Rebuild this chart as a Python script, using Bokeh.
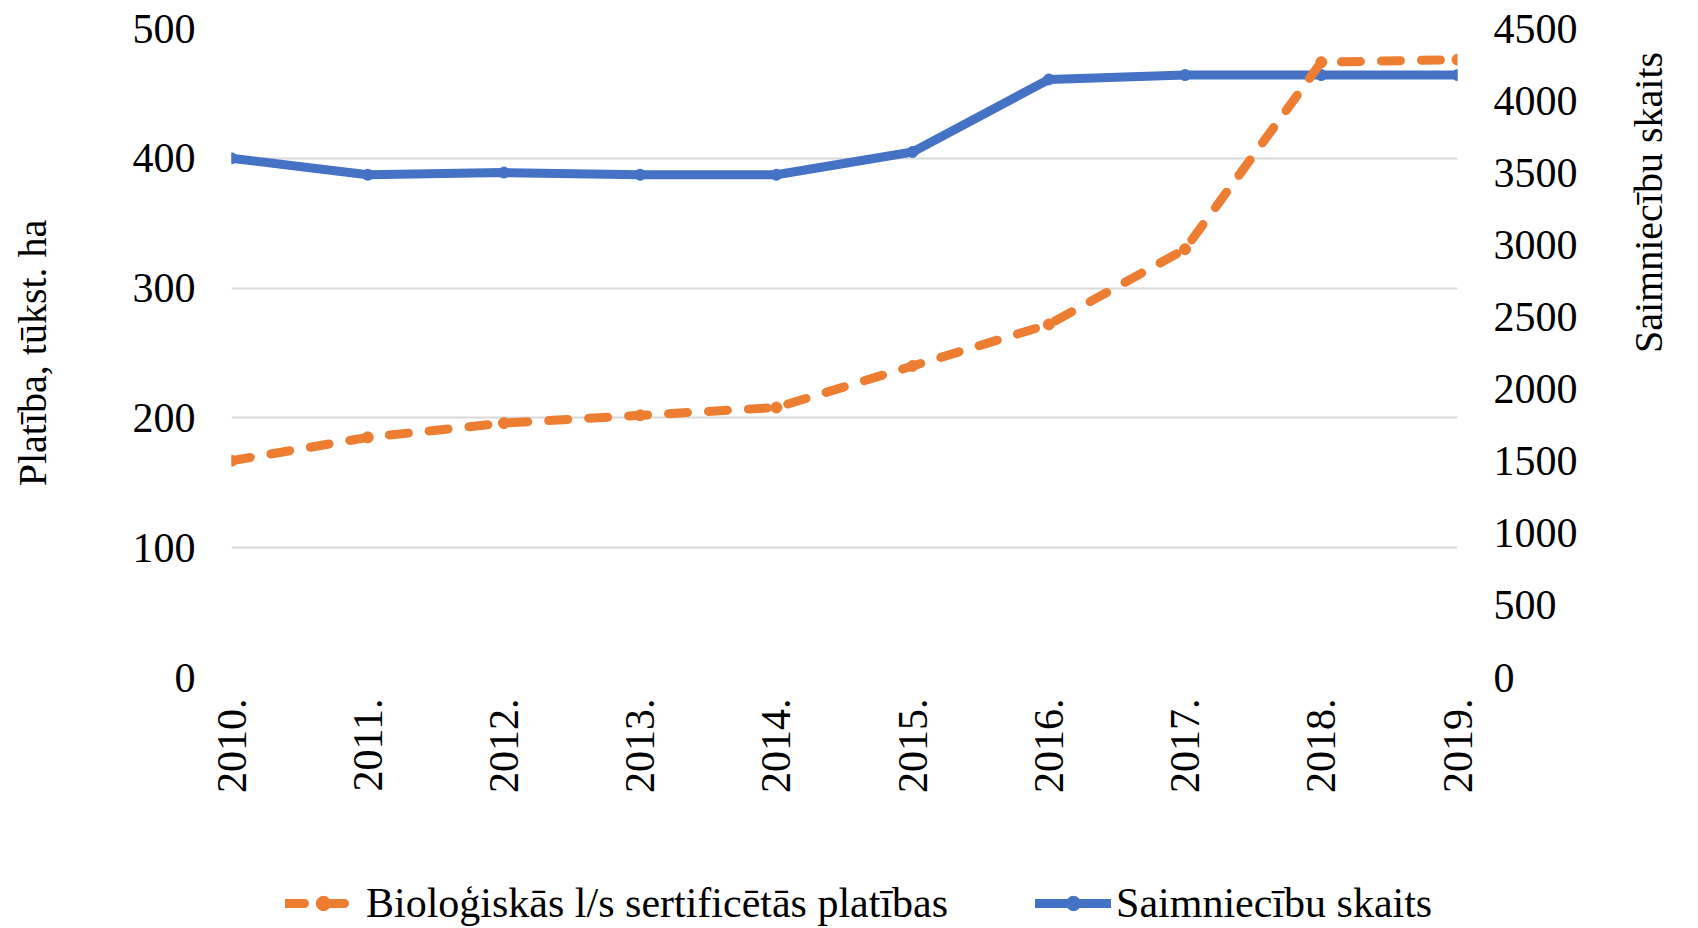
import math
from bokeh.plotting import figure
from bokeh.layouts import column
from bokeh.models import LinearAxis, Range1d, FixedTicker, Legend, LegendItem
from bokeh.embed import file_html
from bokeh.resources import INLINE

years = ["2010.", "2011.", "2012.", "2013.", "2014.", "2015.", "2016.", "2017.", "2018.", "2019."]
area = [167, 185, 196, 202, 208, 240, 272, 330, 474, 476]
farms = [3600, 3486, 3501, 3486, 3486, 3644, 4147, 4177, 4177, 4177]
left_ticks = [0, 100, 200, 300, 400, 500]
right_ticks = [0, 500, 1000, 1500, 2000, 2500, 3000, 3500, 4000, 4500]

name_area = "Bioloģiskās l/s sertificētās platības"
name_farms = "Saimniecību skaits"
FONT = "Liberation Serif"
ORANGE = "#ED7D31"
BLUE = "#4472C4"
LW = 9
DASH = "19 21"

xs = list(range(len(years)))

p = figure(width=1698, height=877, output_backend="svg", toolbar_location=None,
           x_range=Range1d(0, len(years) - 1), y_range=Range1d(0, 500),
           min_border_left=231, min_border_right=241, min_border_top=28, min_border_bottom=200)
p.extra_y_ranges = {"farms": Range1d(0, 4500)}
p.outline_line_color = None
p.background_fill_color = "white"
p.border_fill_color = "white"

# x axis
p.xaxis.ticker = FixedTicker(ticks=xs)
p.xaxis.major_label_overrides = {i: y for i, y in enumerate(years)}
p.xaxis.major_label_orientation = math.pi / 2
p.xaxis.axis_line_color = None
p.xaxis.major_tick_line_color = None
p.xaxis.minor_tick_line_color = None
p.xaxis.major_label_text_font = FONT
p.xaxis.major_label_text_font_size = "42px"
p.xaxis.major_label_text_color = "black"
p.xaxis.major_label_standoff = 15
p.xgrid.grid_line_color = None

# left axis
p.yaxis.ticker = FixedTicker(ticks=left_ticks)
p.yaxis.axis_line_color = None
p.yaxis.major_tick_line_color = None
p.yaxis.minor_tick_line_color = None
p.yaxis.major_label_text_font = FONT
p.yaxis.major_label_text_font_size = "42px"
p.yaxis.major_label_text_color = "black"
p.yaxis.major_label_standoff = 30
p.yaxis.axis_label = "Platība, tūkst. ha"
p.yaxis.axis_label_text_font = FONT
p.yaxis.axis_label_text_font_size = "40px"
p.yaxis.axis_label_text_font_style = "normal"
p.yaxis.axis_label_text_color = "black"
p.yaxis.axis_label_standoff = 75
p.ygrid.ticker = FixedTicker(ticks=left_ticks)
p.ygrid.grid_line_color = "#d9d9d9"
p.ygrid.grid_line_width = 2

# right axis
ra = LinearAxis(y_range_name="farms", ticker=FixedTicker(ticks=right_ticks))
ra.axis_line_color = None
ra.major_tick_line_color = None
ra.minor_tick_line_color = None
ra.major_label_text_font = FONT
ra.major_label_text_font_size = "42px"
ra.major_label_text_color = "black"
ra.major_label_standoff = 30
ra.axis_label = name_farms
ra.axis_label_text_font = FONT
ra.axis_label_text_font_size = "40px"
ra.axis_label_text_font_style = "normal"
ra.axis_label_text_color = "black"
ra.axis_label_standoff = 68
try:
    ra.axis_label_orientation = math.pi / 2
except Exception:
    pass
p.add_layout(ra, "right")

# series
bl = p.line(xs, farms, y_range_name="farms", line_color=BLUE, line_width=LW,
            line_cap="round", line_join="round")
bm = p.scatter(xs, farms, y_range_name="farms", size=11, fill_color=BLUE, line_color=BLUE)
ol = p.line(xs, area, line_color=ORANGE, line_width=LW, line_dash=DASH,
            line_cap="round", line_join="round")
om = p.scatter(xs, area, size=11, fill_color=ORANGE, line_color=ORANGE)

# legend strip: a small figure below, whose (off-range) renderers only serve the legend
q = figure(width=1698, height=51, output_backend="svg", toolbar_location=None,
           x_range=Range1d(-100, -99), y_range=Range1d(-100, -99), min_border=0)
q.outline_line_color = None
q.axis.visible = False
q.grid.visible = False
q.border_fill_color = "white"
q.background_fill_color = "white"
lo = q.line(xs, area, line_color=ORANGE, line_width=LW, line_dash=DASH, line_cap="round")
lom = q.scatter(xs, area, size=11, fill_color=ORANGE, line_color=ORANGE)
lb = q.line(xs, farms, line_color=BLUE, line_width=LW, line_cap="round")
lbm = q.scatter(xs, farms, size=11, fill_color=BLUE, line_color=BLUE)

legend = Legend(items=[LegendItem(label=name_area, renderers=[lo, lom]),
                       LegendItem(label=name_farms, renderers=[lb, lbm])],
                orientation="horizontal", location="center_left")
legend.border_line_color = None
legend.background_fill_alpha = 0
legend.label_text_font = FONT
legend.label_text_font_size = "42px"
legend.label_text_color = "black"
legend.glyph_width = 76
legend.glyph_height = 36
legend.label_height = 36
legend.spacing = 87
legend.label_standoff = 5
legend.padding = 0
legend.margin = 54
q.add_layout(legend, "center")

layout = column(p, q, spacing=0)
open("out.html", "w").write(file_html(layout, INLINE))
